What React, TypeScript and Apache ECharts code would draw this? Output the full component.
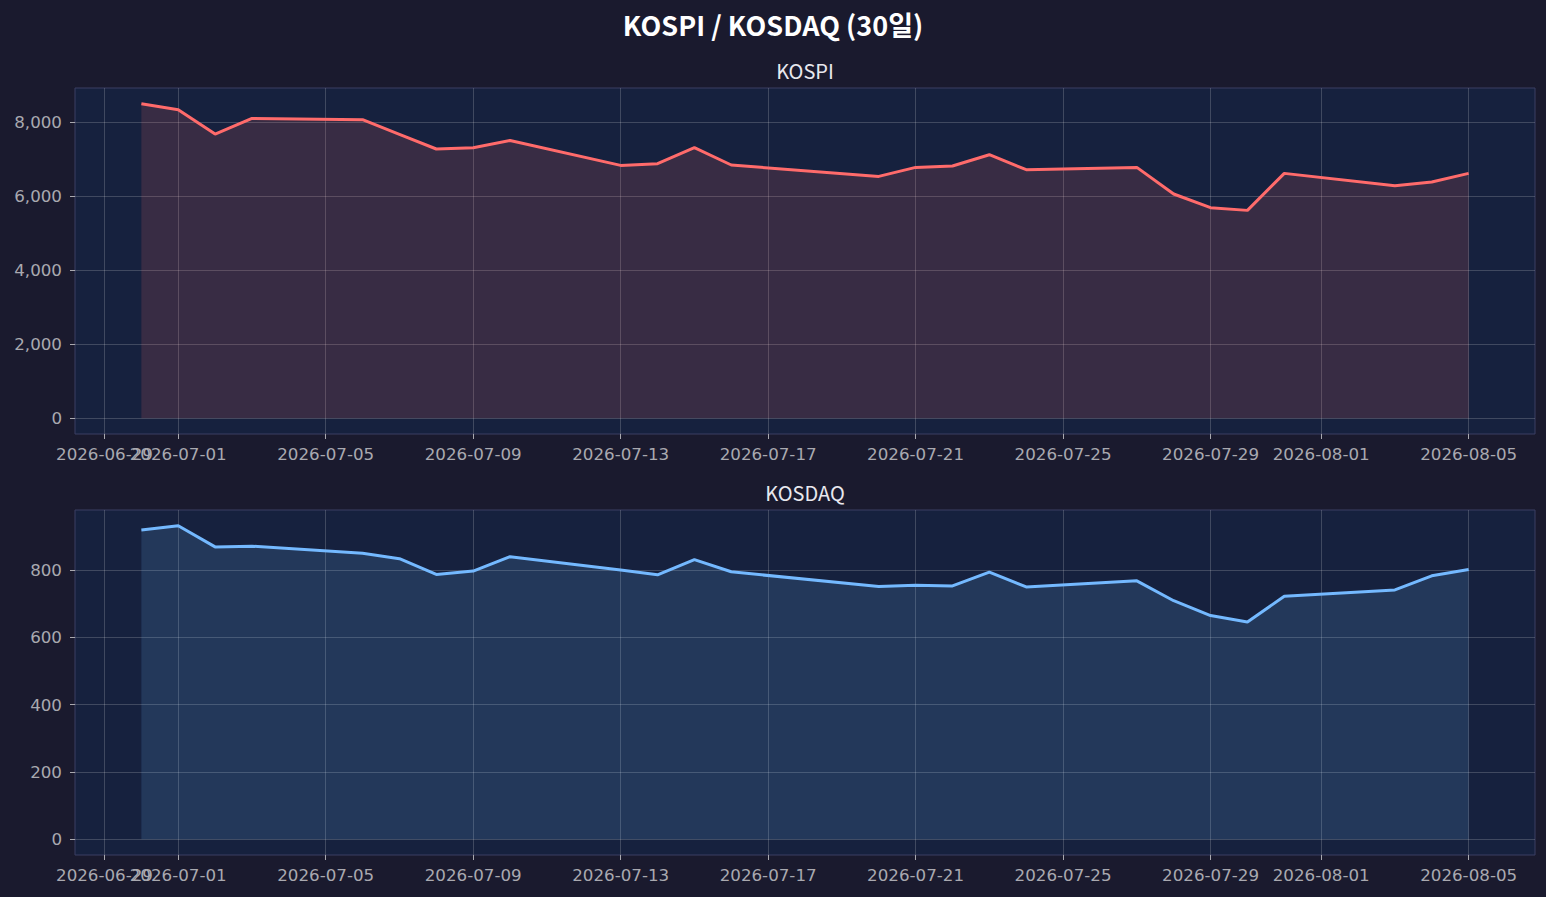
import React, { useEffect, useRef } from 'react';
import * as echarts from 'echarts';

const dates = [
  '2026-06-30', '2026-07-01', '2026-07-02', '2026-07-03', '2026-07-06', '2026-07-07',
  '2026-07-08', '2026-07-09', '2026-07-10', '2026-07-13', '2026-07-14', '2026-07-15',
  '2026-07-16', '2026-07-20', '2026-07-21', '2026-07-22', '2026-07-23', '2026-07-24',
  '2026-07-27', '2026-07-28', '2026-07-29', '2026-07-30', '2026-07-31', '2026-08-03',
  '2026-08-04', '2026-08-05',
];
const kospi = [
  8494, 8332, 7676, 8097, 8062, 7666, 7271, 7306, 7503, 6829, 6875, 7306, 6839,
  6532, 6775, 6812, 7117, 6713, 6775, 6057, 5687, 5614, 6613, 6281, 6381, 6613,
];
const kosdaq = [
  919, 932, 869, 871, 850, 834, 787, 797, 840, 800, 786, 831, 795,
  751, 755, 753, 794, 750, 768, 709, 665, 646, 722, 741, 783, 802,
];
const tickDates = [
  '2026-06-29', '2026-07-01', '2026-07-05', '2026-07-09', '2026-07-13', '2026-07-17',
  '2026-07-21', '2026-07-25', '2026-07-29', '2026-08-01', '2026-08-05',
];
const kospiTicks = [0, 2000, 4000, 6000, 8000];
const kosdaqTicks = [0, 200, 400, 600, 800];

const TITLE_FONT = "'Noto Sans CJK KR', 'Noto Sans', sans-serif";
const TICK_FONT = "'DejaVu Sans', sans-serif";
const DAY = 86400000;
const toDay = (s: string) => {
  const [y, m, d] = s.split('-').map(Number);
  return Date.UTC(y, m - 1, d) / DAY;
};
const fmtDay = (v: number) => new Date(Math.round(v) * DAY).toISOString().slice(0, 10);
const fmtNum = (v: number) => Math.round(v).toLocaleString('en-US');

export default function App() {
  const ref = useRef<HTMLDivElement>(null);
  useEffect(() => {
    document.body.style.margin = '0';
    const chart = echarts.init(ref.current!, null, { renderer: 'svg' });
    const xs = dates.map(toDay);
    const span = xs[xs.length - 1] - xs[0];
    const xMin = xs[0] - span * 0.05;
    const xMax = xs[xs.length - 1] + span * 0.05;
    const xTicks = tickDates.map(toDay);
    const kMax = Math.max(...kospi);
    const qMax = Math.max(...kosdaq);

    const labelColor = '#a9a9b0';
    const gridLine = { show: true, lineStyle: { color: 'rgba(255,255,255,0.18)', width: 1 } };
    const gridCommon = {
      show: true,
      backgroundColor: '#16213e',
      borderColor: '#3b3f63',
      borderWidth: 1,
      containLabel: false,
      left: 75,
      right: 11,
    };
    // ticks split over two axes per grid so that the overlapping first two
    // labels (as in the reference) are both kept
    const xAxisFor = (gi: number, ticks: number[]) => ({
      type: 'value',
      gridIndex: gi,
      position: 'bottom',
      min: xMin,
      max: xMax,
      axisLine: { show: false, onZero: false },
      axisTick: {
        show: true,
        customValues: ticks,
        length: 5,
        lineStyle: { color: labelColor, width: 1 },
      },
      axisLabel: {
        customValues: ticks,
        formatter: (v: number) => fmtDay(v),
        color: labelColor,
        fontSize: 16.7,
        fontFamily: TICK_FONT,
        margin: 11,
        hideOverlap: false,
        showMinLabel: true,
        showMaxLabel: true,
      },
      splitLine: gridLine,
    });
    const yAxisFor = (gi: number, ticks: number[], max: number) => ({
      type: 'value',
      gridIndex: gi,
      min: -max * 0.05,
      max: max * 1.05,
      axisLine: { show: false, onZero: false },
      axisTick: {
        show: true,
        customValues: ticks,
        length: 5,
        lineStyle: { color: labelColor, width: 1 },
      },
      axisLabel: {
        customValues: ticks,
        formatter: (v: number) => fmtNum(v),
        color: labelColor,
        fontSize: 16.7,
        fontFamily: TICK_FONT,
        margin: 13,
        showMinLabel: true,
        showMaxLabel: true,
      },
      splitLine: gridLine,
    });

    const mainTicks = xTicks.slice(1);
    const firstTick = xTicks.slice(0, 1);

    chart.setOption({
      animation: false,
      backgroundColor: '#1a1a2e',
      textStyle: { fontFamily: TICK_FONT },
      title: [
        {
          text: 'KOSPI / KOSDAQ (30일)',
          left: 'center',
          top: 6,
          textStyle: { color: '#ffffff', fontSize: 27, fontWeight: 'bold', fontFamily: TITLE_FONT },
        },
        {
          text: 'KOSPI',
          left: 800,
          top: 55,
          textAlign: 'center',
          textStyle: { color: '#e8e8ee', fontSize: 20, fontWeight: 'normal', fontFamily: TITLE_FONT },
        },
        {
          text: 'KOSDAQ',
          left: 800,
          top: 477,
          textAlign: 'center',
          textStyle: { color: '#e8e8ee', fontSize: 20, fontWeight: 'normal', fontFamily: TITLE_FONT },
        },
      ],
      grid: [
        { ...gridCommon, top: 88, height: 346 },
        { ...gridCommon, top: 510, height: 345 },
      ],
      xAxis: [
        xAxisFor(0, mainTicks),
        xAxisFor(1, mainTicks),
        xAxisFor(0, firstTick),
        xAxisFor(1, firstTick),
      ],
      yAxis: [yAxisFor(0, kospiTicks, kMax), yAxisFor(1, kosdaqTicks, qMax)],
      series: [
        {
          name: 'KOSPI',
          type: 'line',
          xAxisIndex: 0,
          yAxisIndex: 0,
          data: xs.map((x, i) => [x, kospi[i]]),
          symbol: 'none',
          showSymbol: false,
          lineStyle: { color: '#ff6b6b', width: 3 },
          itemStyle: { color: '#ff6b6b' },
          areaStyle: { color: 'rgba(255,107,107,0.15)', opacity: 1, origin: 'auto' },
        },
        {
          name: 'KOSDAQ',
          type: 'line',
          xAxisIndex: 1,
          yAxisIndex: 1,
          data: xs.map((x, i) => [x, kosdaq[i]]),
          symbol: 'none',
          showSymbol: false,
          lineStyle: { color: '#74b9ff', width: 3 },
          itemStyle: { color: '#74b9ff' },
          areaStyle: { color: 'rgba(116,185,255,0.15)', opacity: 1, origin: 'auto' },
        },
      ],
    });
    return () => chart.dispose();
  }, []);
  return <div ref={ref} style={{ width: 1546, height: 897 }} />;
}
